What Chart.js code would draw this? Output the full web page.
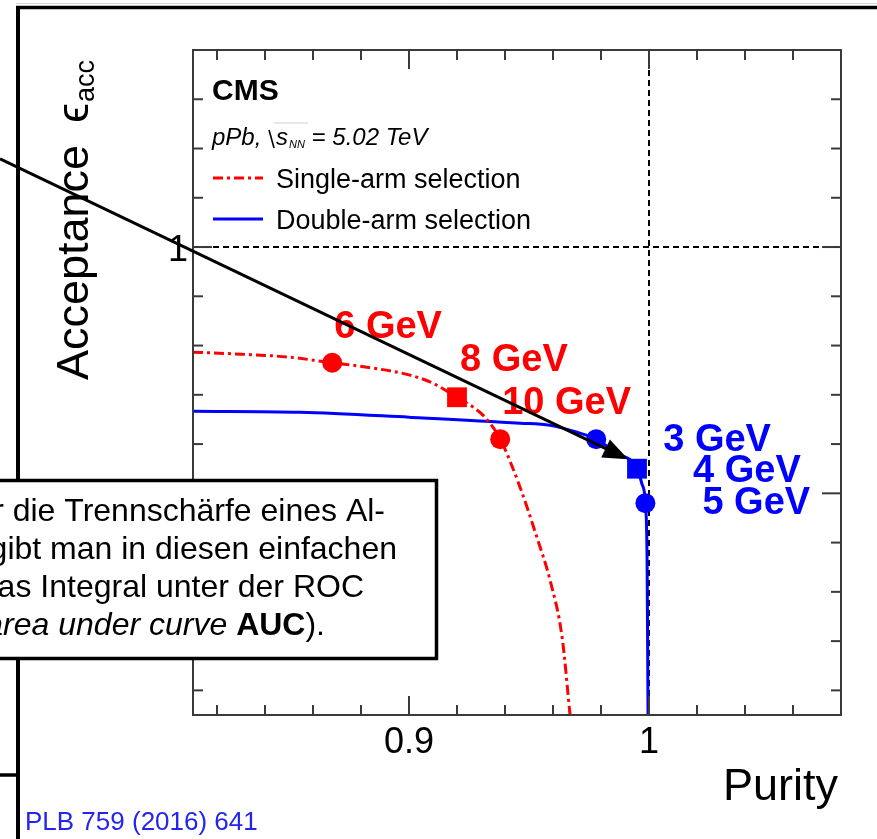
<!DOCTYPE html>
<html>
<head>
<meta charset="utf-8">
<script src="https://cdn.jsdelivr.net/npm/chart.js@4/dist/chart.umd.min.js"></script>
<style>
  html, body { margin: 0; padding: 0; background: #fff; overflow: hidden; }
  canvas { display: block; }
</style>
</head>
<body>
<canvas id="rocChart" width="877" height="839"></canvas>
<script>
// ROC curves: acceptance vs purity for the two HF selections
const singleArmPurity = [0.81, 0.83, 0.85, 0.868, 0.8825, 0.9004, 0.91, 0.92, 0.9267, 0.9317, 0.938, 0.9463, 0.9533, 0.9588, 0.9638, 0.9671];
const singleArmAcceptance = [0.9573, 0.9565, 0.9553, 0.953, 0.9512, 0.948, 0.9447, 0.939, 0.935, 0.9309, 0.922, 0.9024, 0.8821, 0.8646, 0.8415, 0.81];
const doubleArmPurity = [0.81, 0.8546, 0.9, 0.9463, 0.9588, 0.97, 0.978, 0.9858, 0.995, 0.9971, 0.9985, 0.9992, 0.9996];
const doubleArmAcceptance = [0.9333, 0.9329, 0.9309, 0.9285, 0.9276, 0.9248, 0.922, 0.9167, 0.910, 0.9037, 0.896, 0.8728, 0.81];

// working points (energy thresholds)
const singleArmLabels = ['6 GeV', '8 GeV', '10 GeV'];
const singleArmPointPurity = [0.868, 0.92, 0.938];
const singleArmPointAcceptance = [0.953, 0.939, 0.922];
const doubleArmLabels = ['3 GeV', '4 GeV', '5 GeV'];
const doubleArmPointPurity = [0.978, 0.995, 0.9985];
const doubleArmPointAcceptance = [0.922, 0.910, 0.896];

// axes
const axisRange = [0.81, 1.08];
const majorTicks = [0.9, 1];
const majorTickLabels = ['0.9', '1'];
const minorTicks = [0.82, 0.84, 0.86, 0.88, 0.92, 0.94, 0.96, 0.98, 1.02, 1.04, 1.06];

// arrow drawn over the plot (purity, acceptance)
const arrowStart = [0.7296, 1.0358];
const arrowEnd = [0.9913, 0.9138];

const noteLines = [
    'Als Maß für die Trennschärfe eines Al-',
    'gorithmus gibt man in diesen einfachen',
    'Fällen das Integral unter der ROC'
];
const noteLastLine = ['Kurve an (', 'area under curve ', 'AUC', ').'];

const RED = '#ff0000';
const BLUE = '#0000ff';
const FONT = '"Liberation Sans", Arial, Helvetica, sans-serif';

function font(size, style) {
    return (style ? style + ' ' : '') + size + 'px ' + FONT;
}

function seg(ctx, x1, y1, x2, y2) {
    ctx.beginPath();
    ctx.moveTo(x1, y1);
    ctx.lineTo(x2, y2);
    ctx.stroke();
}

function toPoints(xs, ys) {
    return xs.map((x, i) => ({ x: x, y: ys[i] }));
}

const rootLook = {
    id: 'rootLook',
    beforeDraw(chart) {
        const ctx = chart.ctx;
        ctx.save();
        ctx.fillStyle = '#fff';
        ctx.fillRect(0, 0, chart.width, chart.height);
        // slide frame
        ctx.strokeStyle = '#d6d6d6';
        ctx.lineWidth = 1;
        seg(ctx, 16, 3.5, chart.width, 3.5);
        ctx.strokeStyle = '#000';
        ctx.lineWidth = 3.5;
        seg(ctx, 16, 7.5, chart.width, 7.5);
        ctx.lineWidth = 4;
        seg(ctx, 18, 6, 18, chart.height);
        ctx.lineWidth = 3.5;
        seg(ctx, 0, 775, 18, 775);
        ctx.restore();
    },
    beforeDatasetsDraw(chart) {
        const ctx = chart.ctx;
        const a = chart.chartArea;
        const xs = chart.scales.x, ys = chart.scales.y;
        ctx.save();
        ctx.strokeStyle = '#000';
        ctx.lineWidth = 2;
        ctx.setLineDash([6, 4]);
        const y1 = ys.getPixelForValue(1);
        seg(ctx, a.left, y1, a.right, y1);
        const x1 = xs.getPixelForValue(1);
        seg(ctx, x1, a.top, x1, a.bottom);
        ctx.restore();
    },
    afterDatasetsDraw(chart) {
        const ctx = chart.ctx;
        const a = chart.chartArea;
        const xs = chart.scales.x, ys = chart.scales.y;
        ctx.save();

        // frame and ticks
        ctx.strokeStyle = '#3a3a3a';
        ctx.lineWidth = 2;
        ctx.strokeRect(a.left, a.top, a.right - a.left, a.bottom - a.top);
        const drawTicks = (vals, len) => {
            vals.forEach(v => {
                const px = xs.getPixelForValue(v);
                seg(ctx, px, a.bottom, px, a.bottom - len);
                seg(ctx, px, a.top, px, a.top + len);
                const py = ys.getPixelForValue(v);
                seg(ctx, a.left, py, a.left + len, py);
                seg(ctx, a.right, py, a.right - len, py);
            });
        };
        drawTicks(minorTicks, 10);
        drawTicks(majorTicks, 19);

        // tick labels
        ctx.fillStyle = '#000';
        ctx.font = font(36);
        ctx.textBaseline = 'alphabetic';
        majorTicks.forEach((v, i) => {
            ctx.textAlign = 'center';
            ctx.fillText(majorTickLabels[i], xs.getPixelForValue(v), a.bottom + 38);
            ctx.textAlign = 'right';
            ctx.fillText(majorTickLabels[i], a.left - 5, ys.getPixelForValue(v) + 14);
        });

        // axis titles
        ctx.font = font(45);
        ctx.textAlign = 'right';
        ctx.fillText('Purity', a.right - 3, 800);
        ctx.save();
        ctx.translate(88, 380);
        ctx.rotate(-Math.PI / 2);
        ctx.textAlign = 'left';
        ctx.fillText('Acceptance', 0, 0);
        let w = ctx.measureText('Acceptance').width + 22;
        ctx.fillText('\u03f5', w, 0);
        w += ctx.measureText('\u03f5').width;
        ctx.font = font(27);
        ctx.fillText('acc', w + 1, 6);
        ctx.restore();

        // CMS label and legend
        ctx.textAlign = 'left';
        ctx.font = font(30, 'bold');
        ctx.fillText('CMS', 212, 100);
        ctx.font = font(24, 'italic');
        let tx = 212;
        ctx.fillText('pPb, ', tx, 145);
        tx += ctx.measureText('pPb, ').width;
        ctx.strokeStyle = '#000';
        ctx.lineWidth = 1.6;
        seg(ctx, tx + 1, 130, tx + 6, 148);
        ctx.strokeStyle = '#cfcfcf';
        ctx.lineWidth = 1;
        seg(ctx, tx + 6, 123, tx + 40, 123);
        tx += 8;
        ctx.fillText('s', tx, 145);
        tx += ctx.measureText('s').width + 1;
        ctx.font = font(11, 'italic');
        ctx.fillText('NN', tx, 148);
        tx += ctx.measureText('NN').width;
        ctx.font = font(24, 'italic');
        ctx.fillText(' = 5.02 TeV', tx, 145);

        const sets = chart.data.datasets;
        [0, 1].forEach((d, i) => {
            const ly = 178 + i * 41;
            ctx.save();
            ctx.strokeStyle = sets[d].borderColor;
            ctx.lineWidth = 3;
            ctx.setLineDash(sets[d].borderDash || []);
            seg(ctx, 213, ly, 263, ly);
            ctx.restore();
            ctx.fillStyle = '#000';
            ctx.font = font(27);
            ctx.fillText(sets[d].label, 276, ly + 10);
        });

        // working-point labels
        ctx.font = font(38, 'bold');
        const redShift = [[2, -25], [3, -26], [2, -25]];
        const blueShift = [[67, 12], [56, 13], [57, 11]];
        ctx.fillStyle = RED;
        chart.getDatasetMeta(2).data.forEach((p, i) => {
            ctx.fillText(singleArmLabels[i], p.x + redShift[i][0], p.y + redShift[i][1]);
        });
        ctx.fillStyle = BLUE;
        chart.getDatasetMeta(3).data.forEach((p, i) => {
            ctx.fillText(doubleArmLabels[i], p.x + blueShift[i][0], p.y + blueShift[i][1]);
        });

        // arrow
        const ax0 = xs.getPixelForValue(arrowStart[0]), ay0 = ys.getPixelForValue(arrowStart[1]);
        const ax1 = xs.getPixelForValue(arrowEnd[0]), ay1 = ys.getPixelForValue(arrowEnd[1]);
        const len = Math.hypot(ax1 - ax0, ay1 - ay0);
        const ux = (ax1 - ax0) / len, uy = (ay1 - ay0) / len;
        const hl = 25, hw = 10;
        const bx = ax1 - ux * hl, by = ay1 - uy * hl;
        ctx.strokeStyle = '#000';
        ctx.lineWidth = 3;
        seg(ctx, ax0, ay0, bx + ux * 2, by + uy * 2);
        ctx.fillStyle = '#000';
        ctx.beginPath();
        ctx.moveTo(ax1, ay1);
        ctx.lineTo(bx - uy * hw, by + ux * hw);
        ctx.lineTo(bx + uy * hw, by - ux * hw);
        ctx.closePath();
        ctx.fill();

        // note box
        ctx.fillStyle = '#fff';
        ctx.fillRect(-10, 480, 446, 179);
        ctx.strokeStyle = '#000';
        ctx.lineWidth = 3.5;
        ctx.strokeRect(-10, 480.5, 446.5, 178);
        ctx.fillStyle = '#000';
        ctx.textAlign = 'right';
        ctx.font = font(32);
        const ends = [385, 397, 364];
        noteLines.forEach((t, i) => ctx.fillText(t, ends[i], 520.5 + i * 38.3));
        const styles = ['', 'italic', 'bold', ''];
        let rx = 325;
        for (let i = noteLastLine.length - 1; i >= 0; i--) {
            ctx.font = font(32, styles[i]);
            ctx.fillText(noteLastLine[i], rx, 635.4);
            rx -= ctx.measureText(noteLastLine[i]).width;
        }

        // reference
        ctx.textAlign = 'left';
        ctx.fillStyle = '#2424ee';
        ctx.font = font(26);
        ctx.fillText('PLB 759 (2016) 641', 25, 830);
        ctx.restore();
    }
};

new Chart(document.getElementById('rocChart'), {
    type: 'scatter',
    data: {
        datasets: [{
            label: 'Single-arm selection',
            data: toPoints(singleArmPurity, singleArmAcceptance),
            showLine: true,
            borderColor: RED,
            borderWidth: 3,
            borderDash: [10, 4, 3, 4],
            cubicInterpolationMode: 'monotone',
            pointRadius: 0
        }, {
            label: 'Double-arm selection',
            data: toPoints(doubleArmPurity, doubleArmAcceptance),
            showLine: true,
            borderColor: BLUE,
            borderWidth: 3,
            cubicInterpolationMode: 'monotone',
            pointRadius: 0
        }, {
            label: 'single-arm points',
            data: toPoints(singleArmPointPurity, singleArmPointAcceptance),
            pointStyle: ['circle', 'rect', 'circle'],
            pointRadius: [10, 14, 10],
            pointBackgroundColor: RED,
            pointBorderWidth: 0
        }, {
            label: 'double-arm points',
            data: toPoints(doubleArmPointPurity, doubleArmPointAcceptance),
            pointStyle: ['circle', 'rect', 'circle'],
            pointRadius: [10, 14, 10],
            pointBackgroundColor: BLUE,
            pointBorderWidth: 0
        }]
    },
    options: {
        responsive: false,
        animation: false,
        events: [],
        layout: { padding: { left: 193, right: 36, top: 50, bottom: 124 } },
        scales: {
            x: { type: 'linear', min: axisRange[0], max: axisRange[1], display: false },
            y: { type: 'linear', min: axisRange[0], max: axisRange[1], display: false }
        },
        plugins: {
            legend: { display: false },
            tooltip: { enabled: false }
        }
    },
    plugins: [rootLook]
});
</script>
</body>
</html>
